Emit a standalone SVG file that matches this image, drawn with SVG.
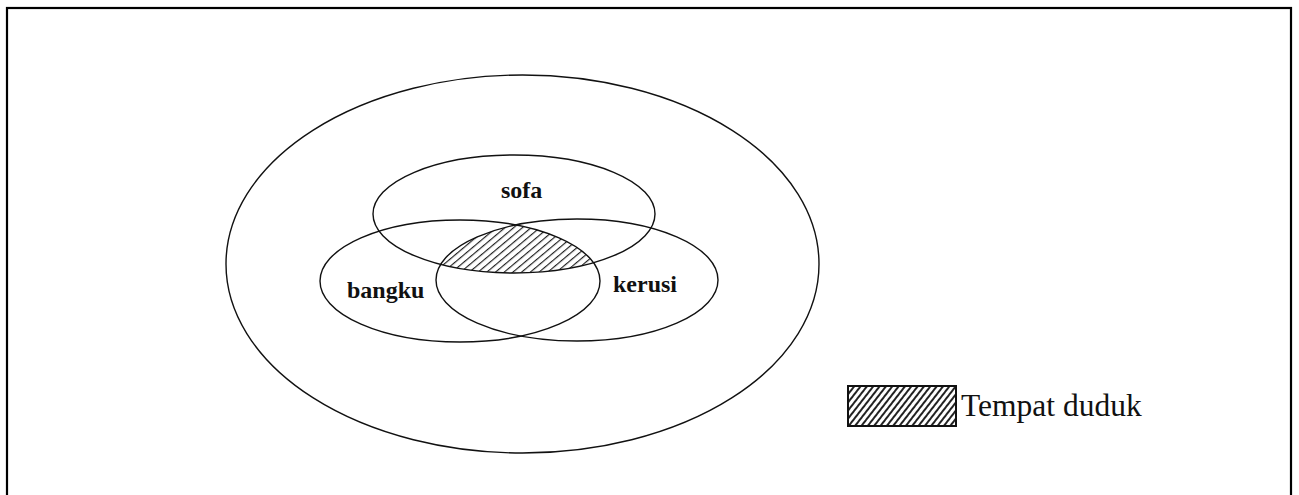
<svg xmlns="http://www.w3.org/2000/svg" width="1299" height="495" viewBox="0 0 1299 495">
  <style>
    .set { fill: none; stroke: #111; stroke-width: 1.4; }
    .lbl { font-family: "Liberation Serif", "Times New Roman", serif; font-weight: bold; font-size: 24px; fill: #111; }
    .leg { font-family: "Liberation Serif", "Times New Roman", serif; font-size: 31.5px; fill: #111; }
  </style>
  <defs>
    <pattern id="hatch" patternUnits="userSpaceOnUse" width="20" height="5.6" patternTransform="rotate(-40)">
      <line x1="0" y1="0.6" x2="20" y2="0.6" stroke="#111" stroke-width="1.1"/>
    </pattern>
    <pattern id="hatchLeg" patternUnits="userSpaceOnUse" width="20" height="5" patternTransform="rotate(-52)">
      <line x1="0" y1="1" x2="20" y2="1" stroke="#222" stroke-width="2"/>
    </pattern>
    <clipPath id="clipSofa"><ellipse cx="514" cy="214" rx="141" ry="59"/></clipPath>
    <clipPath id="clipBangku"><ellipse cx="460" cy="281" rx="140" ry="61"/></clipPath>
  </defs>
  <rect x="0" y="0" width="1299" height="495" fill="#fff"/>
  <rect id="frame" x="7" y="8" width="1284" height="500" fill="none" stroke="#000" stroke-width="2.2"/>

  <g id="region-intersection">
    <g clip-path="url(#clipSofa)">
      <g clip-path="url(#clipBangku)">
        <ellipse cx="577" cy="280" rx="141" ry="61" fill="url(#hatch)"/>
      </g>
    </g>
  </g>

  <g id="universal">
    <ellipse class="set" cx="522.5" cy="264" rx="296.5" ry="189"/>
  </g>
  <g id="sofa">
    <ellipse class="set" cx="514" cy="214" rx="141" ry="59"/>
    <text class="lbl" x="501" y="198">sofa</text>
  </g>
  <g id="bangku">
    <ellipse class="set" cx="460" cy="281" rx="140" ry="61"/>
    <text class="lbl" x="347" y="298">bangku</text>
  </g>
  <g id="kerusi">
    <ellipse class="set" cx="577" cy="280" rx="141" ry="61"/>
    <text class="lbl" x="613" y="292">kerusi</text>
  </g>

  <g id="legend">
    <rect x="848" y="386" width="108" height="40" fill="url(#hatchLeg)" stroke="#111" stroke-width="2"/>
    <text class="leg" x="961" y="416">Tempat duduk</text>
  </g>
  <g id="connectors"/>
</svg>
